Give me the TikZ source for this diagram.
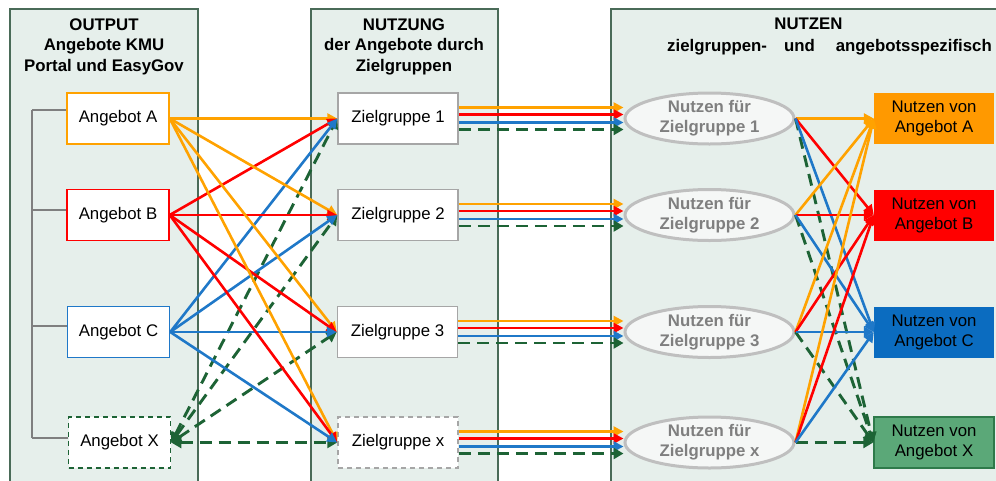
\documentclass[tikz,border=0pt]{standalone}
\usepackage{fontspec}
\setmainfont{Liberation Sans}
\usetikzlibrary{shapes.geometric,arrows.meta,calc}
\definecolor{panelfill}{HTML}{E6EFEB}
\definecolor{panelline}{HTML}{4A6B58}
\definecolor{cOrange}{HTML}{FFA200}
\definecolor{cRed}{HTML}{FF0000}
\definecolor{cBlue}{HTML}{1F78C8}
\definecolor{cGreen}{HTML}{1D6335}
\definecolor{fOrange}{HTML}{FF9900}
\definecolor{fBlue}{HTML}{0B6CC0}
\definecolor{fGreen}{HTML}{5BA878}
\definecolor{bGreen}{HTML}{2E7A4A}
\definecolor{ellLine}{HTML}{BFBFBF}
\definecolor{ellFill}{HTML}{F5F7F6}
\definecolor{ellText}{HTML}{7F7F7F}
\definecolor{zgLine}{HTML}{A6A6A6}
\definecolor{brk}{HTML}{7F7F7F}
\begin{document}
\begin{tikzpicture}[x=1pt,y=-1pt,
  txt/.style={font=\fontsize{16.8}{20.5}\selectfont},
  panel/.style={draw=panelline,line width=1.8pt,fill=panelfill},
  title/.style={font=\fontsize{16.8}{20.5}\selectfont\bfseries,align=center,inner sep=0pt},
  abox/.style={txt,draw,fill=white,line width=1.5pt,minimum width=102pt,minimum height=51pt,inner sep=0pt},
  zbox/.style={txt,draw=zgLine,fill=white,line width=1.5pt,minimum width=120pt,minimum height=51pt,inner sep=0pt},
  ell/.style={ellipse,draw=ellLine,fill=ellFill,line width=3pt,minimum width=169pt,minimum height=51pt,inner sep=0pt,font=\fontsize{16.8}{20}\selectfont\bfseries,text=ellText,align=center},
  nbox/.style={font=\fontsize{16.8}{20}\selectfont,minimum width=120pt,minimum height=51pt,inner sep=0pt,align=center},
  arr/.style={line width=2.6pt,-{Triangle[length=10pt,width=10pt]}},
  darr/.style={draw=cGreen,line width=2.9pt,dash pattern=on 12pt off 7pt,-{Triangle[length=10pt,width=11pt]}},
  ddarr/.style={draw=cGreen,line width=2.9pt,dash pattern=on 12pt off 7pt,{Triangle[length=10pt,width=11pt]}-{Triangle[length=10pt,width=11pt]}},
  brkline/.style={draw=brk,line width=1.8pt}
  ]
\useasboundingbox (0,0) rectangle (996,480);
\clip (0,0) rectangle (996,480);
% panels
\draw[panel] (10,9) rectangle (198,495);
\draw[panel] (311,9) rectangle (498,495);
\draw[panel] (611,9) rectangle (1012,495);
% titles
\node[title,anchor=north] (t1) at (104,18.2) {OUTPUT\\Angebote KMU\\Portal und EasyGov};
\node[title,anchor=north] (t2) at (404,18.2) {NUTZUNG\\der Angebote durch\\Zielgruppen};
\node[title,anchor=north] (t3) at (808.5,18.2) {NUTZEN};
\node[title,anchor=base west] (t3b) at (667,51) {zielgruppen-\hspace{17pt}und\hspace{21pt}angebotsspezifisch};
% boxes
\node[abox,draw=cOrange] (aA) at (118,118.5) {Angebot A};
\node[abox,draw=cRed] (aB) at (118,215) {Angebot B};
\node[abox,draw=cBlue] (aC) at (118.5,332) {Angebot C};
\node[abox,draw=cGreen,dash pattern=on 5pt off 4pt] (aX) at (119.5,442.5) {Angebot X};
\node[zbox] (z1) at (398,118.5) {Zielgruppe 1};
\node[zbox] (z2) at (398,215) {Zielgruppe 2};
\node[zbox] (z3) at (397.5,332) {Zielgruppe 3};
\node[zbox,dash pattern=on 5pt off 4pt] (zx) at (398,442.5) {Zielgruppe x};
\node[ell] (e1) at (709.5,118.5) {Nutzen für\\Zielgruppe 1};
\node[ell] (e2) at (709.5,215) {Nutzen für\\Zielgruppe 2};
\node[ell] (e3) at (709.5,332) {Nutzen für\\Zielgruppe 3};
\node[ell] (ex) at (709.5,442.5) {Nutzen für\\Zielgruppe x};
\node[nbox,fill=fOrange] (nA) at (934,118.5) {Nutzen von\\Angebot A};
\node[nbox,fill=cRed] (nB) at (934,215) {Nutzen von\\Angebot B};
\node[nbox,fill=fBlue] (nC) at (934,332) {Nutzen von\\Angebot C};
\node[nbox,fill=fGreen,draw=bGreen,line width=1.5pt] (nX) at (934,442.5) {Nutzen von\\Angebot X};
% bracket
\coordinate (bA) at (32,110);
\coordinate (bB) at (32,210);
\coordinate (bC) at (32,326);
\coordinate (bX) at (32,438);
\draw[brkline] (bA) -- (bX);
\draw[brkline] (bA) -- (bA -| aA.west);
\draw[brkline] (bB) -- (bB -| aB.west);
\draw[brkline] (bC) -- (bC -| aC.west);
\draw[brkline] (bX) -- (bX -| aX.west);
% Angebote -> Zielgruppen
\foreach \z in {z1,z2,z3,zx}{
  \draw[ddarr] (aX.east) -- (\z.west);
}
\foreach \z in {z1,z2,z3,zx}{
  \draw[arr,cOrange] (aA.east) -- (\z.west);
  \draw[arr,cRed] (aB.east) -- (\z.west);
  \draw[arr,cBlue] (aC.east) -- (\z.west);
}
% Zielgruppen -> Nutzen fuer Zielgruppe
\foreach \z/\e in {z1/e1,z2/e2,z3/e3,zx/ex}{
  \draw[arr,cOrange] ($(\z.east)+(0,-11)$) -- ($(\e.west)+(0,-11)$);
  \draw[arr,cRed] ($(\z.east)+(0,-4)$) -- ($(\e.west)+(0,-4)$);
  \draw[arr,cBlue] ($(\z.east)+(0,4)$) -- ($(\e.west)+(0,4)$);
  \draw[darr] ($(\z.east)+(0,11)$) -- ($(\e.west)+(0,11)$);
}
% Nutzen fuer Zielgruppe -> Nutzen von Angebot
\foreach \e in {e1,e2,e3,ex}{
  \draw[darr] (\e.east) -- (nX.west);
}
\foreach \e in {e1,e2,e3,ex}{
  \draw[arr,cOrange] (\e.east) -- (nA.west);
  \draw[arr,cRed] (\e.east) -- (nB.west);
  \draw[arr,cBlue] (\e.east) -- (nC.west);
}
\end{tikzpicture}
\end{document}
